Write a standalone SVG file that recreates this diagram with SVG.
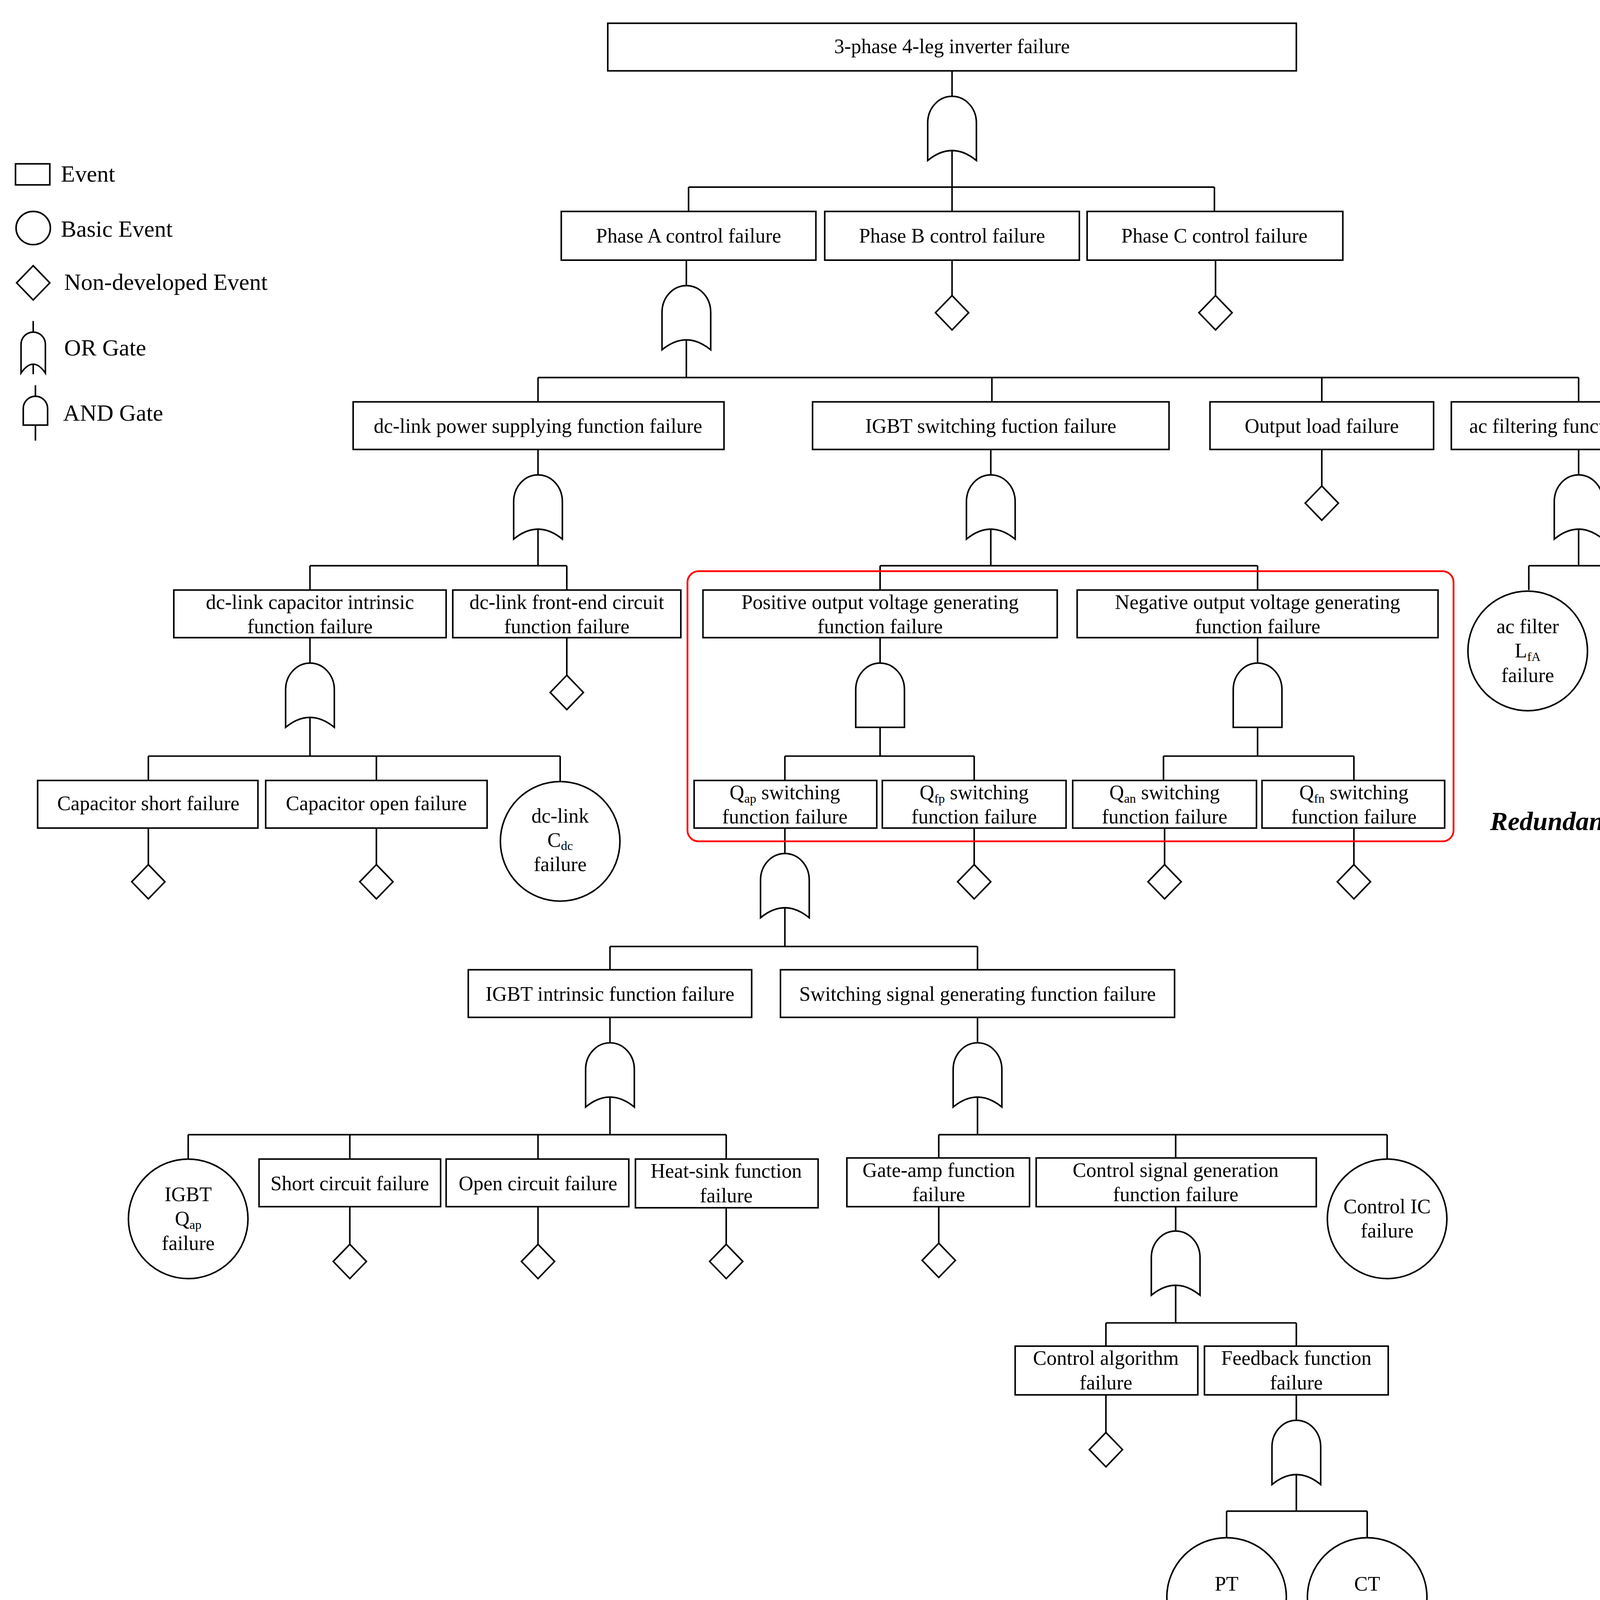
<svg xmlns="http://www.w3.org/2000/svg" xmlns:xlink="http://www.w3.org/1999/xlink" width="4421" height="4272" viewBox="0 0 4421 4272">
<style>
.b{fill:#fff;stroke:#000;stroke-width:1.4}
.l{fill:none;stroke:#000;stroke-width:1.4}
text{font-family:"Liberation Serif","Times New Roman",serif;font-size:18.3px;fill:#000;text-anchor:middle}
.lg{text-anchor:start;font-size:21px}
.s{font-size:11.5px}
</style>
<defs>
<path id="or" class="b" d="M-22,58 V24 A22,24 0 0 1 22,24 V58 Q0,40 -22,58 Z"/>
<path id="and" class="b" d="M-22,58 V24 A22,24 0 0 1 22,24 V58 Z"/>
<path id="dia" class="b" d="M0,0 L15,15.5 L0,31 L-15,15.5 Z"/>
</defs>
<rect width="4421" height="4272" fill="#fff"/>
<g transform="scale(2.834)">
<g id="connectors" class="l">
<path d="M860,64V87 M860,136V169 M622,169H1097 M622,169V191 M860,169V191 M1097,169V191"/>
<path d="M860,235V267 M1098,235V267"/>
<path d="M620,235V258 M620,307V341 M486,341H1426 M486,341V363 M896,341V363 M1194,341V363 M1426,341V363"/>
<path d="M1194,406V439"/>
<path d="M486,406V429 M486,478V511 M280,511H512 M280,511V533 M512,511V533 M512,576V610"/>
<path d="M895,406V429 M895,478V511 M795,511H1136 M795,511V533 M1136,511V533"/>
<path d="M1426,406V429 M1426,478V511 M1381,511H1502 M1381,511V533 M1502,511V533"/>
<path d="M795,576V599 M795,657V683 M709,683H880 M709,683V705 M880,683V705 M880,748V781"/>
<path d="M1136,576V599 M1136,657V683 M1051,683H1223 M1051,683V705 M1223,683V705 M1052,748V781 M1223,748V781"/>
<path d="M280,576V599 M280,648V683 M134,683H506 M134,683V705 M340,683V705 M506,683V706 M134,748V781 M340,748V781"/>
<path d="M709,748V771 M709,820V855 M551,855H883 M551,855V876 M883,855V876"/>
<path d="M551,919V942 M551,991V1025 M170,1025H656 M170,1025V1047 M316,1025V1047 M486,1025V1047 M656,1025V1047 M316,1090V1124 M486,1090V1124 M656,1090V1124"/>
<path d="M883,919V942 M883,991V1025 M848,1025H1253 M848,1025V1046 M1062,1025V1046 M1253,1025V1047 M848,1090V1123"/>
<path d="M1062,1090V1112 M1062,1161V1195 M999,1195H1171 M999,1195V1216 M1171,1195V1216 M999,1260V1294"/>
<path d="M1171,1260V1283 M1171,1332V1365 M1108,1365H1235 M1108,1365V1389 M1235,1365V1389"/>
<rect x="621" y="516" width="692" height="244" rx="10" style="stroke:#f00;stroke-width:1.6"/>
</g>
<g id="legend">
<rect class="b" x="14" y="148" width="31" height="19"/>
<text class="lg" x="55" y="164">Event</text>
<ellipse class="b" cx="30" cy="206" rx="15.5" ry="15"/>
<text class="lg" x="55" y="214">Basic Event</text>
<use xlink:href="#dia" transform="translate(30,240)"/>
<text class="lg" x="58" y="262">Non-developed Event</text>
<path class="l" d="M30,290V300 M30,321V338"/>
<path class="b" d="M19,337 V311 A11,11 0 0 1 41,311 V337 Q30,321 19,337 Z"/>
<text class="lg" x="58" y="321">OR Gate</text>
<path class="l" d="M32,348V359 M32,384V398"/>
<path class="b" d="M21,384 V369 A11,11 0 0 1 43,369 V384 Z"/>
<text class="lg" x="57" y="380">AND Gate</text>
</g>
<g id="n_top"><rect class="b" x="549" y="21" width="622" height="43"/><text x="860" y="48">3-phase 4-leg inverter failure</text></g>
<use xlink:href="#or" x="860" y="87"/>
<g id="n_pa"><rect class="b" x="507" y="191" width="230" height="44"/><text x="622" y="219">Phase A control failure</text></g>
<g id="n_pb"><rect class="b" x="745" y="191" width="230" height="44"/><text x="860" y="219">Phase B control failure</text></g>
<g id="n_pc"><rect class="b" x="982" y="191" width="231" height="44"/><text x="1097" y="219">Phase C control failure</text></g>
<use xlink:href="#dia" x="860" y="267"/>
<use xlink:href="#dia" x="1098" y="267"/>
<use xlink:href="#or" x="620" y="258"/>
<g id="n_dcp"><rect class="b" x="319" y="363" width="335" height="43"/><text x="486" y="391">dc-link power supplying function failure</text></g>
<g id="n_igbt"><rect class="b" x="734" y="363" width="322" height="43"/><text x="895" y="391">IGBT switching fuction failure</text></g>
<g id="n_out"><rect class="b" x="1093" y="363" width="202" height="43"/><text x="1194" y="391">Output load failure</text></g>
<g id="n_acf"><rect class="b" x="1311" y="363" width="230" height="43"/><text x="1426" y="391">ac filtering function failure</text></g>
<use xlink:href="#dia" x="1194" y="439"/>
<use xlink:href="#or" x="486" y="429"/>
<use xlink:href="#or" x="895" y="429"/>
<use xlink:href="#or" x="1426" y="429"/>
<g id="n_cap"><rect class="b" x="157" y="533" width="246" height="43"/><text x="280" y="550">dc-link capacitor intrinsic</text><text x="280" y="572">function failure</text></g>
<g id="n_fe"><rect class="b" x="409" y="533" width="206" height="43"/><text x="512" y="550">dc-link front-end circuit</text><text x="512" y="572">function  failure</text></g>
<use xlink:href="#dia" x="512" y="610"/>
<g id="n_pos"><rect class="b" x="635" y="533" width="320" height="43"/><text x="795" y="550">Positive output voltage generating</text><text x="795" y="572">function failure</text></g>
<g id="n_neg"><rect class="b" x="973" y="533" width="326" height="43"/><text x="1136" y="550">Negative output voltage generating</text><text x="1136" y="572">function failure</text></g>
<g id="n_lf"><circle class="b" cx="1380" cy="588" r="54"/><text x="1380" y="572">ac filter</text><text x="1380" y="594">L<tspan class="s" dy="3">fA</tspan></text><text x="1380" y="616">failure</text></g>
<g id="n_cf"><circle class="b" cx="1502" cy="587" r="54"/><text x="1502" y="571">ac filter</text><text x="1502" y="593">C<tspan class="s" dy="3">fA</tspan></text><text x="1502" y="615">failure</text></g>
<use xlink:href="#and" x="795" y="599"/>
<use xlink:href="#and" x="1136" y="599"/>
<use xlink:href="#or" x="280" y="599"/>
<g id="n_qap"><rect class="b" x="627" y="705" width="165" height="43"/><text x="709" y="722">Q<tspan class="s" dy="3">ap</tspan><tspan dy="-3"> switching</tspan></text><text x="709" y="744">function failure</text></g>
<g id="n_qfp"><rect class="b" x="797" y="705" width="166" height="43"/><text x="880" y="722">Q<tspan class="s" dy="3">fp</tspan><tspan dy="-3"> switching</tspan></text><text x="880" y="744">function failure</text></g>
<g id="n_qan"><rect class="b" x="969" y="705" width="166" height="43"/><text x="1052" y="722">Q<tspan class="s" dy="3">an</tspan><tspan dy="-3"> switching</tspan></text><text x="1052" y="744">function failure</text></g>
<g id="n_qfn"><rect class="b" x="1140" y="705" width="165" height="43"/><text x="1223" y="722">Q<tspan class="s" dy="3">fn</tspan><tspan dy="-3"> switching</tspan></text><text x="1223" y="744">function failure</text></g>
<use xlink:href="#dia" x="880" y="781"/>
<use xlink:href="#dia" x="1052" y="781"/>
<use xlink:href="#dia" x="1223" y="781"/>
<text x="1408" y="750" style="font-weight:bold;font-style:italic;font-size:24px">Redundancy</text>
<g id="n_cs"><rect class="b" x="34" y="705" width="199" height="43"/><text x="134" y="732">Capacitor short failure</text></g>
<g id="n_co"><rect class="b" x="240" y="705" width="200" height="43"/><text x="340" y="732">Capacitor open failure</text></g>
<g id="n_cdc"><circle class="b" cx="506" cy="760" r="54"/><text x="506" y="743">dc-link</text><text x="506" y="765">C<tspan class="s" dy="3">dc</tspan></text><text x="506" y="787">failure</text></g>
<use xlink:href="#dia" x="134" y="781"/>
<use xlink:href="#dia" x="340" y="781"/>
<use xlink:href="#or" x="709" y="771"/>
<g id="n_ii"><rect class="b" x="423" y="876" width="256" height="43"/><text x="551" y="904">IGBT intrinsic function failure</text></g>
<g id="n_ss"><rect class="b" x="705" y="876" width="356" height="43"/><text x="883" y="904">Switching signal generating function failure</text></g>
<use xlink:href="#or" x="551" y="942"/>
<use xlink:href="#or" x="883" y="942"/>
<g id="n_iq"><circle class="b" cx="170" cy="1101" r="54"/><text x="170" y="1085">IGBT</text><text x="170" y="1107">Q<tspan class="s" dy="3">ap</tspan></text><text x="170" y="1129">failure</text></g>
<g id="n_sc"><rect class="b" x="234" y="1047" width="164" height="43"/><text x="316" y="1075">Short circuit failure</text></g>
<g id="n_oc"><rect class="b" x="403" y="1047" width="165" height="43"/><text x="486" y="1075">Open circuit failure</text></g>
<g id="n_hs"><rect class="b" x="574" y="1047" width="165" height="44"/><text x="656" y="1064">Heat-sink function</text><text x="656" y="1086">failure</text></g>
<use xlink:href="#dia" x="316" y="1124"/>
<use xlink:href="#dia" x="486" y="1124"/>
<use xlink:href="#dia" x="656" y="1124"/>
<g id="n_ga"><rect class="b" x="765" y="1046" width="165" height="44"/><text x="848" y="1063">Gate-amp function</text><text x="848" y="1085">failure</text></g>
<g id="n_csg"><rect class="b" x="936" y="1046" width="253" height="44"/><text x="1062" y="1063">Control signal generation</text><text x="1062" y="1085">function   failure</text></g>
<g id="n_ic"><circle class="b" cx="1253" cy="1101" r="54"/><text x="1253" y="1096">Control IC</text><text x="1253" y="1118">failure</text></g>
<use xlink:href="#dia" x="848" y="1123"/>
<use xlink:href="#or" x="1062" y="1112"/>
<g id="n_ca"><rect class="b" x="917" y="1216" width="165" height="44"/><text x="999" y="1233">Control algorithm</text><text x="999" y="1255">failure</text></g>
<g id="n_fb"><rect class="b" x="1088" y="1216" width="166" height="44"/><text x="1171" y="1233">Feedback function</text><text x="1171" y="1255">failure</text></g>
<use xlink:href="#dia" x="999" y="1294"/>
<use xlink:href="#or" x="1171" y="1283"/>
<g id="n_pt"><circle class="b" cx="1108" cy="1443" r="54"/><text x="1108" y="1437">PT</text><text x="1108" y="1459">failure</text></g>
<g id="n_ct"><circle class="b" cx="1235" cy="1443" r="54"/><text x="1235" y="1437">CT</text><text x="1235" y="1459">failure</text></g>
</g>
</svg>
